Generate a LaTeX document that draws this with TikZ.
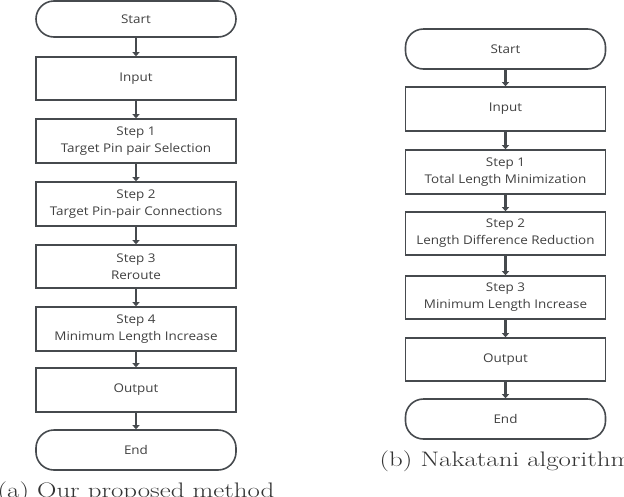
\documentclass[tikz,border=0pt]{standalone}
\usepackage{fontspec}
\setmainfont{Latin Modern Roman}
\newfontfamily\boxfont[FakeStretch=1.12]{Open Sans}
\newfontfamily\capfont[FakeStretch=1.28]{Latin Modern Roman}
\usetikzlibrary{arrows.meta}
\definecolor{lc}{HTML}{464A4E}
\definecolor{tc}{HTML}{404040}
\tikzset{
  box/.style={draw=lc, line width=1.6pt, minimum width=200pt, align=center, text=tc,
    font=\boxfont\fontsize{12}{17}\selectfont, inner sep=0pt},
  term/.style={box, rounded corners=18pt},
  flow/.style={draw=lc, line width=2.6pt, -{Triangle[length=4pt,width=7pt]}},
  captext/.style={font=\capfont\fontsize{21}{24}\selectfont, text=black!80, anchor=base}
}
\begin{document}
\begin{tikzpicture}[x=1pt,y=-1pt]
\useasboundingbox (0,0) rectangle (624,496);
% left column
\node[term, minimum height=36pt] (aS) at (136,19) {Start};
\node[box, minimum height=43pt] (aI) at (136,78.5) {Input};
\node[box, minimum height=44pt] (a1) at (136,141) {Step 1\\Target Pin pair Selection};
\node[box, minimum height=44pt] (a2) at (136,204) {Step 2\\Target Pin-pair Connections};
\node[box, minimum height=43pt] (a3) at (136,266.5) {Step 3\\Reroute};
\node[box, minimum height=44pt] (a4) at (136,329) {Step 4\\Minimum Length Increase};
\node[box, minimum height=44pt] (aO) at (136,390) {Output};
\node[term, minimum height=40pt] (aE) at (136,450) {End};
\foreach \u/\v in {aS/aI,aI/a1,a1/a2,a2/a3,a3/a4,a4/aO,aO/aE}
  \draw[flow] (\u) -- (\v);
\node[captext] (acap) at (136,497) {(a) Our proposed method};
% right column
\node[term, minimum height=40pt] (bS) at (505.5,49) {Start};
\node[box, minimum height=44pt] (bI) at (505.5,109) {Input};
\node[box, minimum height=44pt] (b1) at (505.5,172) {Step 1\\Total Length Minimization};
\node[box, minimum height=43pt] (b2) at (505.5,233.5) {Step 2\\Length Difference Reduction};
\node[box, minimum height=43pt] (b3) at (505.5,297.5) {Step 3\\Minimum Length Increase};
\node[box, minimum height=43pt] (bO) at (505.5,359.5) {Output};
\node[term, minimum height=40pt] (bE) at (505.5,419) {End};
\foreach \u/\v in {bS/bI,bI/b1,b1/b2,b2/b3,b3/bO,bO/bE}
  \draw[flow] (\u) -- (\v);
\node[captext] (bcap) at (505.5,466) {(b) Nakatani algorithm};
\end{tikzpicture}
\end{document}
